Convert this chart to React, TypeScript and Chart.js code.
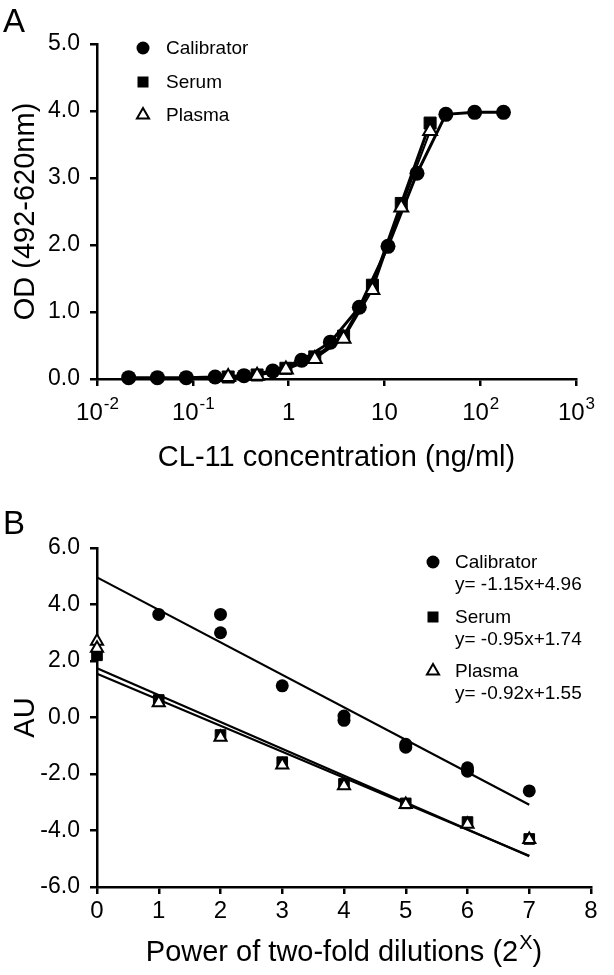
import React, { useEffect, useRef } from "react";
import { Chart, registerables } from "chart.js";

Chart.register(...registerables);

const FONT = "'Liberation Sans', Arial, Helvetica, sans-serif";

// ---------- Panel A data ----------
const calibratorConc = [0.0214, 0.0427, 0.0854, 0.171, 0.342, 0.684, 1.37, 2.73, 5.47, 10.9, 21.9, 43.8, 87.5, 175];
const calibratorOD = [0.02, 0.02, 0.02, 0.03, 0.05, 0.12, 0.28, 0.55, 1.07, 1.98, 3.07, 3.95, 3.98, 3.98];
const sampleConc = [0.234, 0.469, 0.9375, 1.875, 3.75, 7.5, 15, 30];
const serumOD = [0.03, 0.06, 0.16, 0.33, 0.64, 1.4, 2.62, 3.82];
const plasmaOD = [0.03, 0.05, 0.14, 0.3, 0.6, 1.33, 2.56, 3.7];
const xTicksA = [0.01, 0.1, 1, 10, 100, 1000];
const legendA = ["Calibrator", "Serum", "Plasma"];

// ---------- Panel B data ----------
const calibratorX = [1, 2, 2, 3, 4, 4, 5, 5, 6, 6, 7];
const calibratorAU = [3.65, 3.65, 3.0, 1.12, 0.05, -0.1, -0.95, -1.05, -1.78, -1.9, -2.6];
const serumX = [0, 1, 2, 3, 4, 5, 6, 7];
const serumAU = [2.2, 0.62, -0.62, -1.58, -2.35, -3.04, -3.7, -4.3];
const plasmaX = [0, 0, 1, 2, 3, 4, 5, 6, 7];
const plasmaAU = [2.7, 2.45, 0.52, -0.7, -1.68, -2.42, -3.08, -3.78, -4.32];
const fitX = [0, 7];
const calibratorFit = [4.96, -3.09];
const serumFit = [1.74, -4.91];
const plasmaFit = [1.55, -4.89];
const legendB = ["Calibrator", "Serum", "Plasma"];
const equationsB = ["y= -1.15x+4.96", "y= -0.95x+1.74", "y= -0.92x+1.55"];

const pts = (xs: number[], ys: number[]) => xs.map((x, i) => ({ x, y: ys[i] }));

function drawMarker(ctx: CanvasRenderingContext2D, kind: string, x: number, y: number, s: number) {
  ctx.save();
  ctx.fillStyle = "#000";
  ctx.strokeStyle = "#000";
  ctx.lineWidth = 2;
  if (kind === "circle") {
    ctx.beginPath();
    ctx.arc(x, y, s, 0, Math.PI * 2);
    ctx.fill();
  } else if (kind === "rect") {
    ctx.fillRect(x - s, y - s, 2 * s, 2 * s);
  } else {
    const r = s;
    ctx.beginPath();
    ctx.moveTo(x, y - r);
    ctx.lineTo(x + r * 0.866, y + r * 0.5);
    ctx.lineTo(x - r * 0.866, y + r * 0.5);
    ctx.closePath();
    ctx.fillStyle = "#fff";
    ctx.fill();
    ctx.stroke();
  }
  ctx.restore();
}

const axisGrid = {
  drawOnChartArea: false,
  drawTicks: true,
  tickLength: 7,
  color: "#000",
  lineWidth: 2.5,
};
const axisBorder = { display: true, color: "#000", width: 2.5 };

function PanelA() {
  const ref = useRef<HTMLCanvasElement>(null);
  useEffect(() => {
    const decor = {
      id: "decorA",
      afterDraw(chart: any) {
        const ctx: CanvasRenderingContext2D = chart.ctx;
        const xs = chart.scales.x;
        ctx.save();
        ctx.fillStyle = "#000";
        ctx.textBaseline = "alphabetic";
        ctx.textAlign = "left";
        ctx.font = `33px ${FONT}`;
        ctx.fillText("A", 3, 32);
        // x tick labels (powers of ten)
        xTicksA.forEach((v) => {
          const px = xs.getPixelForValue(v);
          const e = Math.round(Math.log10(v));
          ctx.textAlign = "left";
          if (e === 0 || e === 1) {
            ctx.font = `24px ${FONT}`;
            const t = e === 0 ? "1" : "10";
            const w = ctx.measureText(t).width;
            ctx.fillText(t, px - w / 2, 420);
          } else {
            ctx.font = `24px ${FONT}`;
            const wb = ctx.measureText("10").width;
            ctx.font = `17px ${FONT}`;
            const es = String(e);
            const we = ctx.measureText(es).width;
            const start = px - (wb + we) / 2;
            ctx.font = `24px ${FONT}`;
            ctx.fillText("10", start, 420);
            ctx.font = `17px ${FONT}`;
            ctx.fillText(es, start + wb + 1, 409);
          }
        });
        // legend
        const kinds = ["circle", "rect", "triangle"];
        const ys = [48, 82, 115];
        ctx.font = `19px ${FONT}`;
        ctx.textBaseline = "middle";
        ctx.textAlign = "left";
        legendA.forEach((name, i) => {
          drawMarker(ctx, kinds[i], 143, ys[i], i === 0 ? 6.5 : i === 1 ? 5.5 : 7);
          ctx.fillStyle = "#000";
          ctx.fillText(name, 166, ys[i] + 1);
        });
        ctx.restore();
      },
    };
    const chart = new Chart(ref.current as HTMLCanvasElement, {
      type: "scatter",
      data: {
        datasets: [
          {
            label: "Plasma",
            data: pts(sampleConc, plasmaOD),
            showLine: true,
            borderColor: "#000",
            borderWidth: 2,
            pointStyle: "triangle",
            pointRadius: 8,
            pointBackgroundColor: "#fff",
            pointBorderColor: "#000",
            pointBorderWidth: 2,
            clip: false,
          },
          {
            label: "Serum",
            data: pts(sampleConc, serumOD),
            showLine: true,
            borderColor: "#000",
            borderWidth: 3,
            pointStyle: "rect",
            pointRadius: 8.5,
            pointBackgroundColor: "#000",
            pointBorderColor: "#000",
            pointBorderWidth: 1,
            clip: false,
          },
          {
            label: "Calibrator",
            data: pts(calibratorConc, calibratorOD),
            showLine: true,
            borderColor: "#000",
            borderWidth: 3,
            pointStyle: "circle",
            pointRadius: 7.5,
            pointBackgroundColor: "#000",
            pointBorderColor: "#000",
            pointBorderWidth: 0,
            clip: false,
          },
        ],
      } as any,
      options: {
        responsive: false,
        animation: false,
        devicePixelRatio: 1,
        layout: { padding: { left: 0, top: 44, right: 38, bottom: 0 } },
        plugins: { legend: { display: false }, tooltip: { enabled: false } },
        scales: {
          x: {
            type: "logarithmic",
            min: 0.01,
            max: 1000,
            afterBuildTicks: (s: any) => {
              s.ticks = xTicksA.map((v) => ({ value: v }));
            },
            afterFit: (s: any) => {
              s.height = 108;
              s.paddingLeft = 0;
              s.paddingRight = 0;
            },
            ticks: { display: false },
            grid: axisGrid,
            border: axisBorder,
            title: {
              display: true,
              text: "CL-11 concentration (ng/ml)",
              color: "#000",
              font: { family: FONT, size: 29 },
              padding: { top: 0, bottom: 12 },
            },
          },
          y: {
            min: 0,
            max: 5,
            afterFit: (s: any) => {
              s.width = 97;
              s.paddingTop = 0;
              s.paddingBottom = 0;
            },
            ticks: {
              stepSize: 1,
              callback: (v: any) => Number(v).toFixed(1),
              color: "#000",
              font: { family: FONT, size: 23 },
              padding: 10,
            },
            grid: axisGrid,
            border: axisBorder,
            title: {
              display: true,
              text: "OD (492-620nm)",
              color: "#000",
              font: { family: FONT, size: 29 },
              padding: { top: 9, bottom: 0 },
            },
          },
        },
      } as any,
      plugins: [decor],
    });
    return () => chart.destroy();
  }, []);
  return (
    <canvas
      ref={ref}
      width={614}
      height={487}
      style={{ position: "absolute", left: 0, top: 0, width: 614, height: 487 }}
    />
  );
}

function PanelB() {
  const ref = useRef<HTMLCanvasElement>(null);
  useEffect(() => {
    const decor = {
      id: "decorB",
      afterDraw(chart: any) {
        const ctx: CanvasRenderingContext2D = chart.ctx;
        const xs = chart.scales.x;
        ctx.save();
        ctx.fillStyle = "#000";
        ctx.textBaseline = "alphabetic";
        ctx.textAlign = "left";
        ctx.font = `33px ${FONT}`;
        ctx.fillText("B", 3, 47);
        // x-axis title with superscript
        const mainT = "Power of two-fold dilutions (2";
        ctx.font = `29px ${FONT}`;
        const w1 = ctx.measureText(mainT).width;
        const w3 = ctx.measureText(")").width;
        ctx.font = `20px ${FONT}`;
        const w2 = ctx.measureText("X").width;
        const cx = (xs.left + xs.right) / 2;
        const start = cx - (w1 + w2 + w3 + 1) / 2;
        const base = 474;
        ctx.font = `29px ${FONT}`;
        ctx.fillText(mainT, start, base);
        ctx.font = `20px ${FONT}`;
        ctx.fillText("X", start + w1 + 1, base - 12);
        ctx.font = `29px ${FONT}`;
        ctx.fillText(")", start + w1 + w2 + 1, base);
        // legend
        const kinds = ["circle", "rect", "triangle"];
        const ys = [75, 130, 184];
        ctx.font = `19px ${FONT}`;
        ctx.textBaseline = "middle";
        legendB.forEach((name, i) => {
          drawMarker(ctx, kinds[i], 433, ys[i], i === 0 ? 6.5 : i === 1 ? 5.5 : 7);
          ctx.fillStyle = "#000";
          ctx.fillText(name, 455, ys[i] + 1);
          ctx.fillText(equationsB[i], 455, ys[i] + 23);
        });
        ctx.restore();
      },
    };
    const fitStyle = {
      showLine: true,
      borderColor: "#000",
      borderWidth: 2.2,
      pointRadius: 0,
      clip: false,
    };
    const chart = new Chart(ref.current as HTMLCanvasElement, {
      type: "scatter",
      data: {
        datasets: [
          {
            label: "Plasma",
            data: pts(plasmaX, plasmaAU),
            pointStyle: "triangle",
            pointRadius: 7,
            pointBackgroundColor: "#fff",
            pointBorderColor: "#000",
            pointBorderWidth: 2,
            clip: false,
          },
          {
            label: "Serum",
            data: pts(serumX, serumAU),
            pointStyle: "rect",
            pointRadius: 7.5,
            pointBackgroundColor: "#000",
            pointBorderColor: "#000",
            pointBorderWidth: 1,
            clip: false,
          },
          {
            label: "Calibrator",
            data: pts(calibratorX, calibratorAU),
            pointStyle: "circle",
            pointRadius: 6.5,
            pointBackgroundColor: "#000",
            pointBorderColor: "#000",
            pointBorderWidth: 0,
            clip: false,
          },
          { label: "Calibrator fit", data: pts(fitX, calibratorFit), ...fitStyle },
          { label: "Serum fit", data: pts(fitX, serumFit), ...fitStyle },
          { label: "Plasma fit", data: pts(fitX, plasmaFit), ...fitStyle },
        ],
      } as any,
      options: {
        responsive: false,
        animation: false,
        devicePixelRatio: 1,
        layout: { padding: { left: 0, top: 61, right: 23, bottom: 0 } },
        plugins: { legend: { display: false }, tooltip: { enabled: false } },
        scales: {
          x: {
            type: "linear",
            min: 0,
            max: 8,
            afterFit: (s: any) => {
              s.height = 88;
              s.paddingLeft = 0;
              s.paddingRight = 0;
            },
            ticks: {
              stepSize: 1,
              color: "#000",
              font: { family: FONT, size: 24 },
              padding: 3,
            },
            grid: axisGrid,
            border: axisBorder,
          },
          y: {
            min: -6,
            max: 6,
            afterFit: (s: any) => {
              s.width = 97;
              s.paddingTop = 0;
              s.paddingBottom = 0;
            },
            ticks: {
              stepSize: 2,
              callback: (v: any) => Number(v).toFixed(1),
              color: "#000",
              font: { family: FONT, size: 23 },
              padding: 10,
            },
            grid: axisGrid,
            border: axisBorder,
            title: {
              display: true,
              text: "AU",
              color: "#000",
              font: { family: FONT, size: 29 },
              padding: { top: 9, bottom: 0 },
            },
          },
        },
      } as any,
      plugins: [decor],
    });
    return () => chart.destroy();
  }, []);
  return (
    <canvas
      ref={ref}
      width={614}
      height={488}
      style={{ position: "absolute", left: 0, top: 487, width: 614, height: 488 }}
    />
  );
}

export default function App() {
  return (
    <div style={{ position: "absolute", left: 0, top: 0, width: 614, height: 975, background: "#fff" }}>
      <PanelA />
      <PanelB />
    </div>
  );
}
